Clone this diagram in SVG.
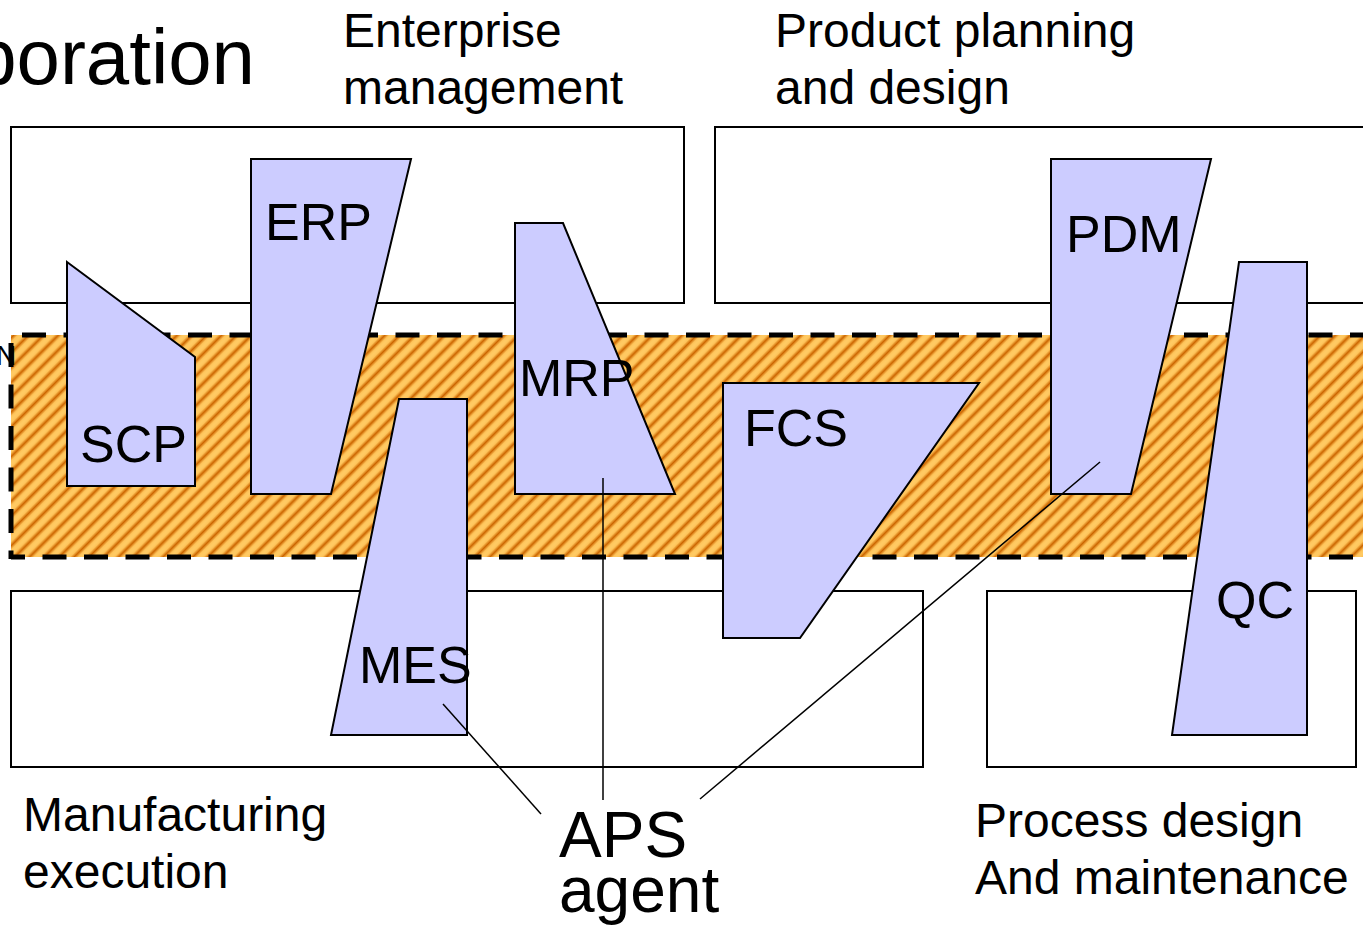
<svg xmlns="http://www.w3.org/2000/svg" width="1363" height="927" viewBox="0 0 1363 927">
  <defs>
    <linearGradient id="stripeGrad" x1="0" y1="0" x2="1" y2="0">
      <stop offset="0" stop-color="#FFCC66"/>
      <stop offset="0.22" stop-color="#FFC45A"/>
      <stop offset="0.5" stop-color="#CC6600"/>
      <stop offset="0.78" stop-color="#FFC45A"/>
      <stop offset="1" stop-color="#FFCC66"/>
    </linearGradient>
    <pattern id="hatch" patternUnits="userSpaceOnUse" width="10.5" height="20" patternTransform="rotate(45)">
      <rect x="0" y="0" width="10.5" height="20" fill="url(#stripeGrad)"/>
    </pattern>
    <style>
      .area { fill: #FFFFFF; stroke: #000000; stroke-width: 2; }
      .sys { fill: #CCCCFF; stroke: #000000; stroke-width: 2; stroke-linejoin: miter; }
      .dash { fill: none; stroke: #000000; stroke-width: 5; stroke-dasharray: 24 17.5; }
      .link { fill: none; stroke: #000000; stroke-width: 1.5; }
      text { font-family: "Liberation Sans", Arial, sans-serif; fill: #000000; }
      .label { font-size: 52px; }
      .head { font-size: 48px; }
    </style>
  </defs>

  <!-- domain areas -->
  <g id="area-enterprise"><rect class="area" x="11" y="127" width="673" height="176"/></g>
  <g id="area-product"><rect class="area" x="715" y="127" width="660" height="176"/></g>
  <g id="area-manufacturing"><rect class="area" x="11" y="591" width="912" height="176"/></g>
  <g id="area-process"><rect class="area" x="987" y="591" width="369" height="176"/></g>

  <!-- collaboration band -->
  <g id="band">
    <rect x="11" y="335" width="1360" height="222" fill="url(#hatch)"/>
    <line class="dash" x1="11" y1="335" x2="1370" y2="335" stroke-dashoffset="30.5"/>
    <line class="dash" x1="11" y1="557" x2="1370" y2="557" stroke-dashoffset="10"/>
    <line class="dash" x1="11" y1="335" x2="11" y2="559" stroke-dashoffset="33.5"/>
  </g>

  <text x="-4" y="365" style="font-size:28px">N</text>

  <!-- systems -->
  <g id="scp"><polygon class="sys" points="67,262 195,357 195,486 67,486"/><text class="label" x="80" y="462">SCP</text></g>
  <g id="erp"><polygon class="sys" points="251,159 411,159 331,494 251,494"/><text class="label" x="265" y="240">ERP</text></g>
  <g id="mes"><polygon class="sys" points="399,399 467,399 467,735 331,735"/><text class="label" x="359" y="683">MES</text></g>
  <g id="mrp"><polygon class="sys" points="515,223 563,223 675,494 515,494"/><text class="label" x="519" y="396">MRP</text></g>
  <g id="fcs"><polygon class="sys" points="723,383 979,383 800,638 723,638"/><text class="label" x="744" y="446">FCS</text></g>
  <g id="pdm"><polygon class="sys" points="1051,159 1211,159 1131,494 1051,494"/><text class="label" x="1066" y="252">PDM</text></g>
  <g id="qc"><polygon class="sys" points="1239,262 1307,262 1307,735 1172,735"/><text class="label" x="1216" y="618">QC</text></g>

  <!-- connectors to the APS agent -->
  <g id="connectors">
    <line class="link" x1="603" y1="478" x2="603" y2="800"/>
    <line class="link" x1="443" y1="704" x2="541" y2="814"/>
    <line class="link" x1="1100" y1="462" x2="700" y2="799"/>
  </g>

  <!-- headings -->
  <text x="255" y="84" text-anchor="end" style="font-size:78px">poration</text>
  <text class="head" x="343" y="47">Enterprise</text>
  <text class="head" x="343" y="104">management</text>
  <text class="head" x="775" y="47">Product planning</text>
  <text class="head" x="775" y="104">and design</text>
  <text class="head" x="23" y="831">Manufacturing</text>
  <text class="head" x="23" y="888">execution</text>
  <text class="head" x="975" y="837">Process design</text>
  <text class="head" x="975" y="894">And maintenance</text>

  <g id="aps-agent">
    <text x="559" y="857" style="font-size:64px">APS</text>
    <text x="559" y="912" style="font-size:64px">agent</text>
  </g>
</svg>
